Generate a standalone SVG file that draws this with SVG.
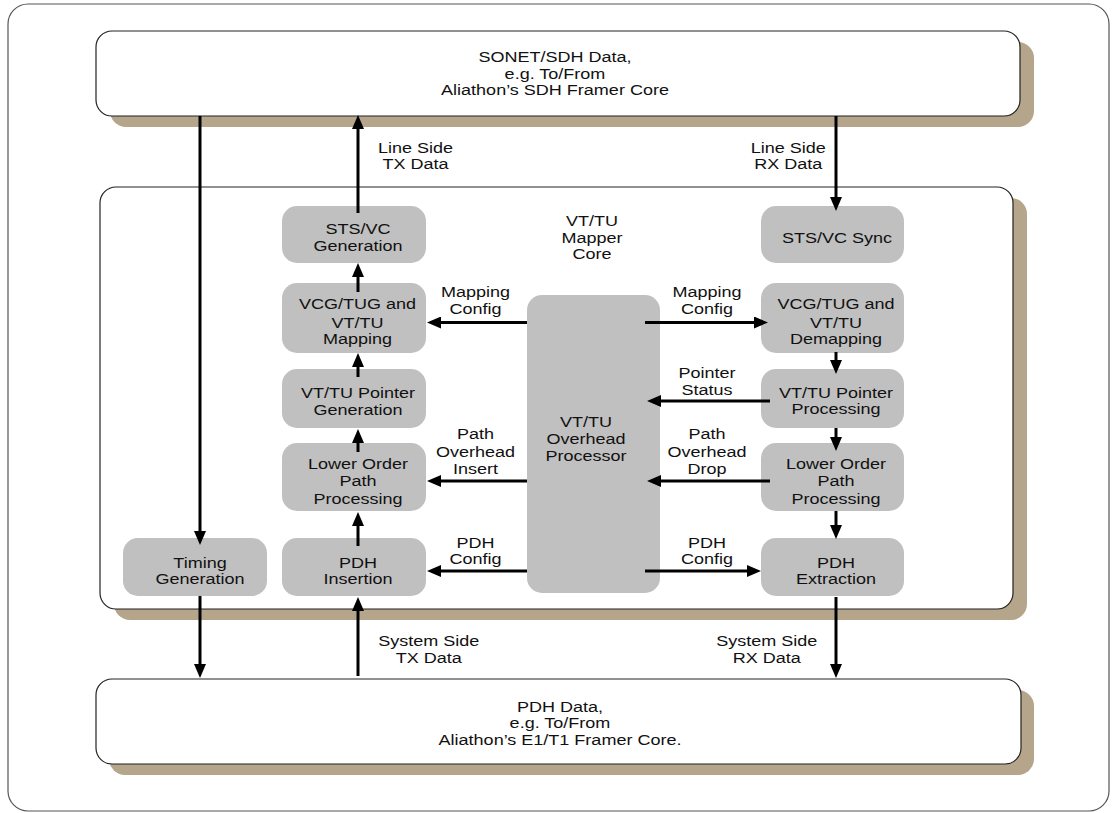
<svg xmlns="http://www.w3.org/2000/svg" width="1113" height="813" viewBox="0 0 1113 813">
<style>
.frame{fill:#fff;stroke:#555;stroke-width:1.2}
.box{fill:#fff;stroke:#222;stroke-width:1.2}
.shadow{fill:#b5a58b}
.node{fill:#c0c0c0}
.t{font-family:"Liberation Sans",Arial,sans-serif;font-size:15.4px;fill:#111;text-anchor:middle}
.c line{stroke:#000;stroke-width:3;marker-end:url(#ah)}
</style>
<defs>
<marker id="ah" markerUnits="userSpaceOnUse" markerWidth="14" markerHeight="12" refX="4" refY="6" orient="auto">
<path d="M0,0 L14,6 L0,12 z" fill="#000"/>
</marker>
</defs>
<rect class="frame" x="8" y="4" width="1101" height="807" rx="20"/>

<g id="sonet">
<rect class="shadow" x="110" y="42" width="924" height="85" rx="16"/>
<rect class="box" x="96" y="31" width="924" height="85" rx="16"/>
<text class="t" transform="translate(555 0) scale(1.17 1)"><tspan x="0" y="62.5">SONET/SDH Data,</tspan><tspan x="0" y="79">e.g. To/From</tspan><tspan x="0" y="95.5">Aliathon’s SDH Framer Core</tspan></text>
</g>

<g id="mapper-core">
<rect class="shadow" x="114" y="198" width="913" height="422" rx="16"/>
<rect class="box" x="100" y="187" width="913" height="422" rx="16"/>
<text class="t" transform="translate(592 0) scale(1.17 1)"><tspan x="0" y="226.5">VT/TU</tspan><tspan x="0" y="243">Mapper</tspan><tspan x="0" y="259.5">Core</tspan></text>
</g>

<g id="pdh">
<rect class="shadow" x="109" y="690" width="925" height="85" rx="16"/>
<rect class="box" x="96" y="679" width="925" height="85" rx="16"/>
<text class="t" transform="translate(560 0) scale(1.17 1)"><tspan x="0" y="712">PDH Data,</tspan><tspan x="0" y="728.5">e.g. To/From</tspan><tspan x="0" y="745">Aliathon’s E1/T1 Framer Core.</tspan></text>
</g>

<g id="sts-gen">
<rect class="node" x="282" y="206" width="144" height="57" rx="15"/>
<text class="t" transform="translate(358 0) scale(1.17 1)"><tspan x="0" y="234.3">STS/VC</tspan><tspan x="0" y="251">Generation</tspan></text>
</g>
<g id="map">
<rect class="node" x="282" y="283" width="144" height="70" rx="15"/>
<text class="t" transform="translate(357.5 0) scale(1.17 1)"><tspan x="0" y="309.3">VCG/TUG and</tspan><tspan x="0" y="327.7">VT/TU</tspan><tspan x="0" y="344.3">Mapping</tspan></text>
</g>
<g id="ptr-gen">
<rect class="node" x="282" y="369" width="144" height="59" rx="15"/>
<text class="t" transform="translate(358 0) scale(1.17 1)"><tspan x="0" y="398.3">VT/TU Pointer</tspan><tspan x="0" y="415.3">Generation</tspan></text>
</g>
<g id="lopp-tx">
<rect class="node" x="282" y="443" width="144" height="68" rx="15"/>
<text class="t" transform="translate(358 0) scale(1.17 1)"><tspan x="0" y="468.7">Lower Order</tspan><tspan x="0" y="486.3">Path</tspan><tspan x="0" y="503.7">Processing</tspan></text>
</g>
<g id="pdh-ins">
<rect class="node" x="282" y="538" width="144" height="58" rx="15"/>
<text class="t" transform="translate(358 0) scale(1.17 1)"><tspan x="0" y="567.7">PDH</tspan><tspan x="0" y="584.3">Insertion</tspan></text>
</g>
<g id="timing">
<rect class="node" x="123" y="538" width="144" height="58" rx="15"/>
<text class="t" transform="translate(200 0) scale(1.17 1)"><tspan x="0" y="567.7">Timing</tspan><tspan x="0" y="584.3">Generation</tspan></text>
</g>

<g id="sts-sync">
<rect class="node" x="761" y="206" width="143" height="57" rx="15"/>
<text class="t" transform="translate(837 0) scale(1.17 1)"><tspan x="0" y="242.7">STS/VC Sync</tspan></text>
</g>
<g id="demap">
<rect class="node" x="761" y="283" width="143" height="70" rx="15"/>
<text class="t" transform="translate(836 0) scale(1.17 1)"><tspan x="0" y="309.3">VCG/TUG and</tspan><tspan x="0" y="327.7">VT/TU</tspan><tspan x="0" y="344.3">Demapping</tspan></text>
</g>
<g id="ptr-proc">
<rect class="node" x="761" y="369" width="143" height="59" rx="15"/>
<text class="t" transform="translate(836 0) scale(1.17 1)"><tspan x="0" y="398">VT/TU Pointer</tspan><tspan x="0" y="414.5">Processing</tspan></text>
</g>
<g id="lopp-rx">
<rect class="node" x="761" y="443" width="143" height="68" rx="15"/>
<text class="t" transform="translate(836 0) scale(1.17 1)"><tspan x="0" y="468.7">Lower Order</tspan><tspan x="0" y="486.3">Path</tspan><tspan x="0" y="503.7">Processing</tspan></text>
</g>
<g id="pdh-ext">
<rect class="node" x="761" y="538" width="143" height="58" rx="15"/>
<text class="t" transform="translate(836 0) scale(1.17 1)"><tspan x="0" y="567.7">PDH</tspan><tspan x="0" y="584.3">Extraction</tspan></text>
</g>

<g id="ohp">
<rect class="node" x="527" y="295" width="133" height="298" rx="15"/>
<text class="t" transform="translate(586 0) scale(1.17 1)"><tspan x="0" y="426.7">VT/TU</tspan><tspan x="0" y="443.7">Overhead</tspan><tspan x="0" y="460.7">Processor</tspan></text>
</g>

<g id="connectors" class="c">
<line x1="200" y1="116" x2="200" y2="535"/>
<line x1="200" y1="596" x2="200" y2="668"/>
<line x1="358" y1="213" x2="358" y2="125"/>
<line x1="358" y1="292" x2="358" y2="273"/>
<line x1="358" y1="377" x2="358" y2="363"/>
<line x1="358" y1="452" x2="358" y2="439"/>
<line x1="358" y1="546" x2="358" y2="522"/>
<line x1="358" y1="676" x2="358" y2="607"/>
<line x1="836" y1="116" x2="836" y2="201"/>
<line x1="836" y1="352" x2="836" y2="364"/>
<line x1="836" y1="428" x2="836" y2="441"/>
<line x1="836" y1="511" x2="836" y2="529"/>
<line x1="836" y1="597" x2="836" y2="668"/>
<line x1="527" y1="322.5" x2="437" y2="322.5"/>
<line x1="527" y1="481" x2="437" y2="481"/>
<line x1="527" y1="571" x2="437" y2="571"/>
<line x1="645" y1="322.5" x2="758" y2="322.5"/>
<line x1="770" y1="401" x2="657" y2="401"/>
<line x1="770" y1="481" x2="657" y2="481"/>
<line x1="645" y1="571" x2="751" y2="571"/>
</g>

<g id="labels">
<text class="t" transform="translate(415.5 0) scale(1.17 1)"><tspan x="0" y="152.7">Line Side</tspan><tspan x="0" y="169.3">TX Data</tspan></text>
<text class="t" transform="translate(788.3 0) scale(1.17 1)"><tspan x="0" y="152.7">Line Side</tspan><tspan x="0" y="169.3">RX Data</tspan></text>
<text class="t" transform="translate(475.5 0) scale(1.17 1)"><tspan x="0" y="297">Mapping</tspan><tspan x="0" y="313.7">Config</tspan></text>
<text class="t" transform="translate(707 0) scale(1.17 1)"><tspan x="0" y="297">Mapping</tspan><tspan x="0" y="313.7">Config</tspan></text>
<text class="t" transform="translate(707 0) scale(1.17 1)"><tspan x="0" y="378.3">Pointer</tspan><tspan x="0" y="395">Status</tspan></text>
<text class="t" transform="translate(475.5 0) scale(1.17 1)"><tspan x="0" y="439.3">Path</tspan><tspan x="0" y="456.7">Overhead</tspan><tspan x="0" y="474.3">Insert</tspan></text>
<text class="t" transform="translate(707 0) scale(1.17 1)"><tspan x="0" y="439.3">Path</tspan><tspan x="0" y="456.7">Overhead</tspan><tspan x="0" y="474.3">Drop</tspan></text>
<text class="t" transform="translate(475.5 0) scale(1.17 1)"><tspan x="0" y="547.7">PDH</tspan><tspan x="0" y="564.3">Config</tspan></text>
<text class="t" transform="translate(707 0) scale(1.17 1)"><tspan x="0" y="547.7">PDH</tspan><tspan x="0" y="564.3">Config</tspan></text>
<text class="t" transform="translate(428.8 0) scale(1.17 1)"><tspan x="0" y="646">System Side</tspan><tspan x="0" y="662.7">TX Data</tspan></text>
<text class="t" transform="translate(766.7 0) scale(1.17 1)"><tspan x="0" y="646">System Side</tspan><tspan x="0" y="662.7">RX Data</tspan></text>
</g>
</svg>
